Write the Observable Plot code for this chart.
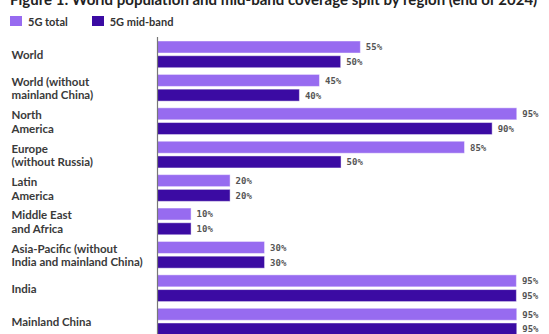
<!DOCTYPE html>
<html><head><meta charset="utf-8">
<script src="https://cdn.jsdelivr.net/npm/d3@7"></script>
<script src="https://cdn.jsdelivr.net/npm/@observablehq/plot@0.6"></script>
<style>
body{margin:0;background:#fff;font-family:Lato,"Noto Sans",sans-serif;overflow:hidden}
#title{height:16px;margin-top:-9px;margin-left:10px;white-space:nowrap;font-weight:700;font-size:15px;line-height:16px;color:#222}
#legend{height:28px;display:flex;align-items:center;padding-left:10px;font-size:11px;font-weight:700;color:#333}
#legend .sw{width:12px;height:10px;margin-right:6px;display:inline-block}
#legend .item{display:flex;align-items:center;margin-right:24px}
svg{display:block}
</style></head>
<body>
<div id="title">Figure 1: World population and mid-band coverage split by region (end of 2024)</div>
<div id="legend"></div>
<div id="chart"></div>
<script>
const regions = ["World", "World (without\nmainland China)", "North\nAmerica", "Europe\n(without Russia)", "Latin\nAmerica", "Middle East\nand Africa", "Asia-Pacific (without\nIndia and mainland China)", "India", "Mainland China"];
const totalValues = [53.7, 42.9, 95.0, 81.2, 19.3, 9.0, 28.4, 94.9, 95.0];
const midbandValues = [48.5, 37.6, 88.5, 48.6, 19.3, 9.0, 28.4, 94.9, 95.0];
const totalLabels = ["55%", "45%", "95%", "85%", "20%", "10%", "30%", "95%", "95%"];
const midbandLabels = ["50%", "40%", "90%", "50%", "20%", "10%", "30%", "95%", "95%"];
const seriesNames = ["5G total", "5G mid-band"];
const seriesColors = ["#976bf0", "#3b0ba3"];

const data = regions.map((r, i) => ({region: r, total: totalValues[i], mid: midbandValues[i], tl: totalLabels[i], ml: midbandLabels[i]}));

const legend = document.getElementById("legend");
seriesNames.forEach((n, i) => {
  const it = document.createElement("span"); it.className = "item";
  const sw = document.createElement("span"); sw.className = "sw"; sw.style.background = seriesColors[i];
  it.appendChild(sw); it.appendChild(document.createTextNode(n));
  legend.appendChild(it);
});

const W = 549, H = 304, mt = 2, mb = 0;
const pIn = 0.2, pOut = 0.12;
const step = (H - mt - mb) / (regions.length - pIn + 2 * pOut);
const bw = step * (1 - pIn);
const barH = 12;
const inset = bw - barH;
const off = (bw - barH) / 2;

const chart = Plot.plot({
  width: W, height: H,
  marginTop: mt, marginBottom: mb, marginLeft: 157, marginRight: 13.3,
  style: {fontFamily: "Lato, 'Noto Sans', sans-serif", background: "#fff"},
  x: {domain: [0, 100], axis: null},
  y: {domain: regions, paddingInner: pIn, paddingOuter: pOut, round: false, label: null},
  marks: [
    Plot.axisY({tickSize: 0, tickPadding: 0, textAnchor: "start", dx: -146, fontSize: 11.5, fontWeight: 700, fill: "#3a3a3a", lineHeight: 1.17, label: null}),
    Plot.barX(data, {x: "total", y: "region", fill: seriesColors[0], insetBottom: inset, stroke: "#ffffff", strokeOpacity: 0.45, strokeWidth: 1}),
    Plot.barX(data, {x: "mid", y: "region", fill: seriesColors[1], insetTop: inset, stroke: "#ffffff", strokeOpacity: 0.45, strokeWidth: 1}),
    Plot.ruleX([0], {stroke: "#777", strokeWidth: 1.2}),
    Plot.text(data, {x: "total", y: "region", text: "tl", dx: 5, dy: -off, textAnchor: "start", fontFamily: "DejaVu Sans Mono", fontSize: 9, fontWeight: 700, fill: "#555"}),
    Plot.text(data, {x: "mid", y: "region", text: "ml", dx: 5, dy: off, textAnchor: "start", fontFamily: "DejaVu Sans Mono", fontSize: 9, fontWeight: 700, fill: "#555"})
  ]
});
document.getElementById("chart").appendChild(chart);
</script>
</body></html>
